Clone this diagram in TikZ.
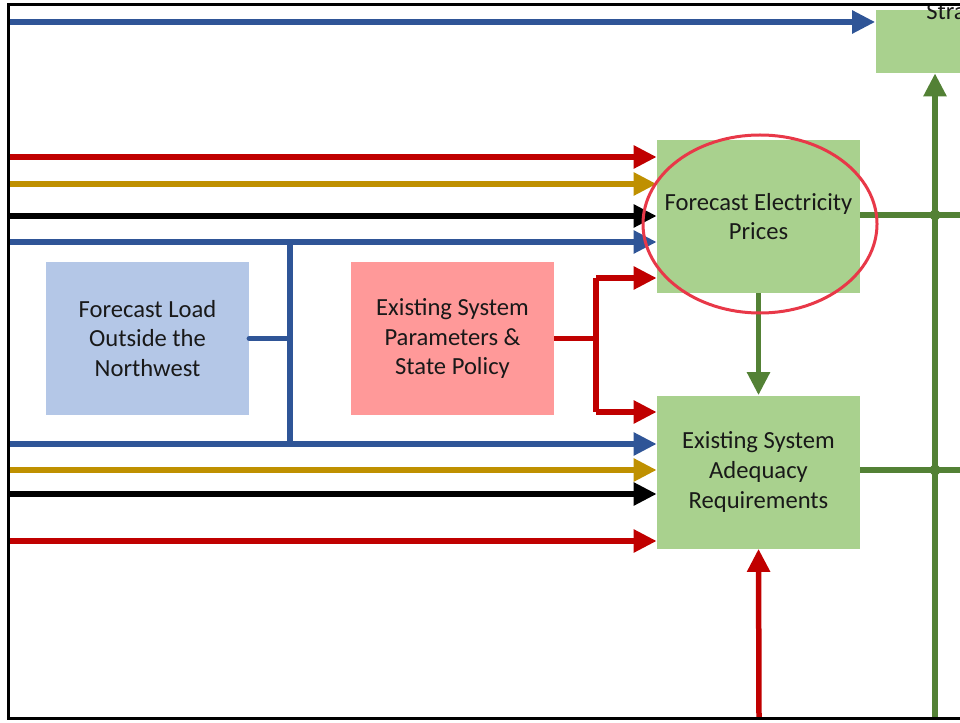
\documentclass[tikz,border=0pt]{standalone}
\usepackage{fontspec}
\setmainfont{Carlito}
\usepackage{tikz}
\usetikzlibrary{positioning,calc,arrows.meta}
\usepackage{xcolor}

\definecolor{lnblue}{RGB}{47,85,151}
\definecolor{lnred}{RGB}{192,0,0}
\definecolor{lngold}{RGB}{191,144,0}
\definecolor{lngreen}{RGB}{83,129,53}
\definecolor{boxgreen}{RGB}{169,209,142}
\definecolor{boxblue}{RGB}{180,199,231}
\definecolor{boxpink}{RGB}{255,153,153}
\definecolor{ringred}{RGB}{232,56,72}

\begin{document}
\begin{tikzpicture}[x=0.2mm,y=-0.2mm,
    box/.style={rectangle,minimum width=40.6mm,minimum height=30.6mm,inner sep=0pt,
      align=center,font=\fontsize{14}{17}\selectfont,text=black!90},
    ln/.style={line width=1.1mm},
    arr/.style={ln,-{Triangle[length=4.6mm,width=4.4mm]}}]

\useasboundingbox (0,0) rectangle (960,723);
\clip (0,0) rectangle (960,723);

\node[box,fill=boxgreen] (price) at (758.5,216.5) {Forecast Electricity\\Prices};
\node[box,fill=boxgreen] (adeq) at (758.5,472) {Existing System\\Adequacy\\Requirements};
\node[box,fill=boxblue] (load) at (147.5,338.5) {Forecast Load\\Outside the\\Northwest};
\node[box,fill=boxpink] (exist) at (452.5,338.5) {Existing System\\Parameters \&\\State Policy};
\node[box,fill=boxgreen,minimum height=12.6mm] (strat) at (977,41.5) {};
\node[anchor=base west,font=\fontsize{14}{17}\selectfont,text=black!90,inner sep=0pt] (stratlbl) at (926,20) {Stra};

\coordinate (inT) at (8,22);
\coordinate (in1) at (8,157);
\coordinate (in2) at (8,184);
\coordinate (in3) at (8,216);
\coordinate (in4) at (8,242);
\coordinate (in5) at (8,444);
\coordinate (in6) at (8,470);
\coordinate (in7) at (8,494);
\coordinate (in8) at (8,541);
\coordinate (busT) at (290,242);
\coordinate (busB) at (290,444);
\coordinate (fork) at (596,338.5);
\coordinate (forkT) at (596,278);
\coordinate (forkB) at (596,412);
\coordinate (botR) at (759,718);
\coordinate (botG) at (935,718);
\coordinate (outP) at (970,215);
\coordinate (outA) at (970,470);
\coordinate (jP) at (935,215);
\coordinate (jA) at (935,470);

\draw[arr,lnblue] (inT) -- (inT -| strat.west);

\draw[arr,lnred] (in1) -- (in1 -| price.west);
\draw[arr,lngold] (in2) -- (in2 -| price.west);
\draw[arr,black] (in3) -- (in3 -| price.west);
\draw[arr,lnblue] (in4) -- (in4 -| price.west);

\draw[arr,lnblue] (in5) -- (in5 -| adeq.west);
\draw[arr,lngold] (in6) -- (in6 -| adeq.west);
\draw[arr,black] (in7) -- (in7 -| adeq.west);
\draw[arr,lnred] (in8) -- (in8 -| adeq.west);

\draw[ln,lnblue] (busT) -- (busB);
\draw[ln,lnblue,line cap=round] (load.east) -- (load.east -| busT);

\draw[ln,lnred] (exist.east) -- (fork);
\draw[ln,lnred] (forkT) -- (forkB);
\draw[arr,lnred] (forkT) -- (forkT -| price.west);
\draw[arr,lnred] (forkB) -- (forkB -| adeq.west);

\draw[arr,lngreen] (price.south) -- (adeq.north);
\draw[arr,lnred] (botR) -- (adeq.south);
\draw[arr,lngreen] (botG) -- (botG |- strat.south);
\draw[ln,lngreen] (price.east |- outP) -- (outP);
\draw[ln,lngreen] (adeq.east |- outA) -- (outA);
\fill[lngreen] (jP) circle (1.1mm);
\fill[lngreen] (jA) circle (1.1mm);

\draw[ringred,line width=0.6mm] (760,224) ellipse [x radius=23.4mm,y radius=17.8mm];

\draw[black,line width=0.6mm] (8,5) rectangle (990,718);

\end{tikzpicture}
\end{document}
